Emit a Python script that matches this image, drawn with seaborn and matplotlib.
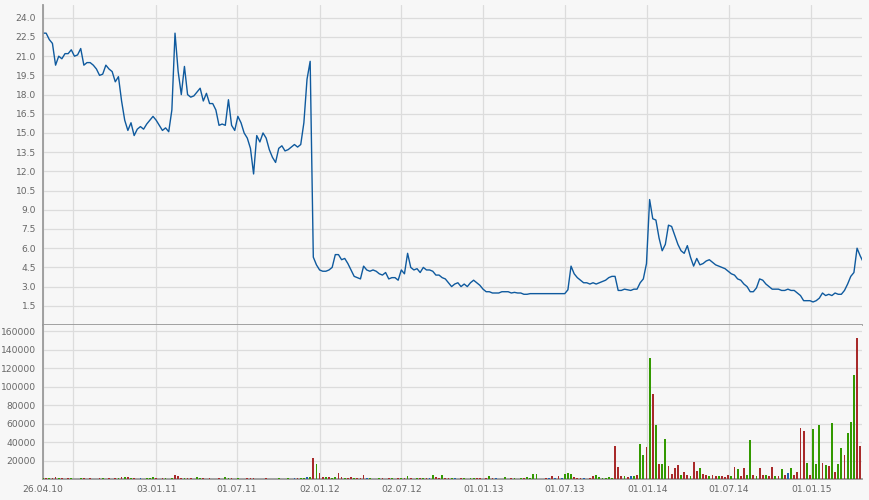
import matplotlib
matplotlib.use("Agg")
import matplotlib.pyplot as plt
import pandas as pd
import seaborn as sns

# ---------------- data (weekly readings) ----------------
start_date = "2010-04-26"
end_date = "2015-04-24"

price = [
    22.8, 22.8, 22.3, 22.0, 20.3, 21.0, 20.8, 21.2, 21.2, 21.5,
    21.0, 21.1, 21.6, 20.3, 20.5, 20.5, 20.3, 20.0, 19.5, 19.6,
    20.3, 20.0, 19.8, 19.0, 19.4, 17.5, 16.0, 15.2, 15.8, 14.8,
    15.3, 15.5, 15.3, 15.7, 16.0, 16.3, 16.0, 15.6, 15.2, 15.4,
    15.1, 16.8, 22.8, 19.8, 18.0, 20.2, 18.0, 17.8, 17.9, 18.2,
    18.5, 17.5, 18.1, 17.3, 17.3, 16.8, 15.6, 15.7, 15.6, 17.6,
    15.6, 15.2, 16.3, 15.8, 15.0, 14.6, 13.8, 11.8, 14.8, 14.3,
    15.0, 14.6, 13.7, 13.1, 12.7, 13.8, 14.0, 13.6, 13.7, 13.9,
    14.1, 13.9, 14.1, 15.8, 19.2, 20.6, 5.3, 4.7, 4.3, 4.2,
    4.2, 4.3, 4.5, 5.5, 5.5, 5.1, 5.2, 4.8, 4.3, 3.8,
    3.7, 3.6, 4.6, 4.3, 4.2, 4.3, 4.2, 4.0, 3.9, 4.1,
    3.6, 3.7, 3.7, 3.5, 4.3, 4.0, 5.6, 4.5, 4.3, 4.4,
    4.1, 4.5, 4.3, 4.3, 4.2, 3.9, 3.9, 3.7, 3.6, 3.3,
    3.0, 3.2, 3.3, 3.0, 3.2, 3.0, 3.3, 3.5, 3.3, 3.1,
    2.8, 2.6, 2.6, 2.5, 2.5, 2.5, 2.6, 2.6, 2.6, 2.5,
    2.55, 2.5, 2.5, 2.4, 2.4, 2.45, 2.45, 2.45, 2.45, 2.45,
    2.45, 2.45, 2.45, 2.45, 2.45, 2.45, 2.45, 2.75, 4.6, 4.0,
    3.7, 3.5, 3.3, 3.3, 3.2, 3.3, 3.2, 3.3, 3.4, 3.5,
    3.7, 3.8, 3.8, 2.7, 2.7, 2.8, 2.75, 2.7, 2.8, 2.8,
    3.3, 3.6, 4.8, 9.8, 8.3, 8.2, 6.8, 5.8, 6.3, 7.8,
    7.7, 7.0, 6.3, 5.8, 5.6, 6.2, 5.3, 4.6, 5.2, 4.7,
    4.8, 5.0, 5.1, 4.9, 4.7, 4.6, 4.5, 4.4, 4.2, 4.0,
    3.9, 3.6, 3.5, 3.2, 3.0, 2.6, 2.6, 2.9, 3.6, 3.5,
    3.2, 3.0, 2.8, 2.8, 2.8, 2.7, 2.7, 2.8, 2.7, 2.7,
    2.5, 2.3, 1.9, 1.9, 1.9, 1.8, 1.9, 2.1, 2.5, 2.3,
    2.4, 2.3, 2.5, 2.4, 2.4, 2.7, 3.2, 3.8, 4.1, 6.0,
    5.4, 4.9,
]

volume = [
    1800, 900, 1000, 1100, 2000, 1200, 900, 800, 900, 1000,
    800, 700, 900, 1000, 800, 900, 700, 800, 900, 1000,
    800, 900, 700, 900, 1000, 2900, 2000, 2900, 1100, 1000,
    800, 900, 700, 900, 1200, 2000, 900, 800, 900, 1000,
    800, 1500, 4700, 3300, 1200, 1000, 1100, 900, 800, 2000,
    1000, 900, 800, 900, 700, 800, 900, 800, 2000, 1000,
    900, 800, 900, 700, 800, 900, 1000, 900, 800, 700,
    800, 900, 800, 700, 800, 900, 800, 700, 900, 800,
    900, 1000, 1200, 1500, 2000, 2900, 23500, 16100, 6300, 2900,
    2000, 2200, 1800, 2500, 7000, 2500, 1500, 1000, 2800, 1500,
    1000, 900, 4600, 1000, 900, 800, 700, 1000, 900, 800,
    1000, 900, 800, 1000, 1200, 1000, 3500, 1000, 800, 900,
    1000, 1200, 1000, 900, 4600, 2800, 1500, 4900, 1200, 1000,
    900, 1000, 800, 900, 1000, 800, 1000, 1200, 1000, 900,
    800, 1200, 3500, 1000, 900, 800, 700, 2800, 800, 1000,
    900, 700, 1200, 1000, 2100, 1000, 5600, 5600, 800, 700,
    900, 1000, 3500, 900, 3500, 1000, 5800, 6300, 6000, 3000,
    1500, 1000, 900, 800, 1000, 3600, 4700, 2000, 1500, 1200,
    2500, 1200, 36000, 13700, 4000, 3500, 3000, 4000, 3500, 5000,
    38000, 26000, 35000, 131000, 92000, 59000, 16600, 17000, 43700, 14400,
    6000, 12000, 15000, 5000, 8000, 5000, 4000, 18800, 9000, 12000,
    6000, 5000, 4000, 5000, 4000, 3500, 4000, 3000, 5000, 3500,
    13000, 11500, 4000, 12700, 5000, 42600, 4500, 4000, 12700, 5000,
    5000, 4000, 13000, 4000, 3500, 11500, 5000, 7000, 12700, 5000,
    8000, 56000, 52000, 18000, 5000, 54000, 16600, 59000, 18000, 15000,
    14400, 60600, 8000, 17000, 33600, 26000, 50500, 62500, 113000, 152700,
    36000,
]

# u = up day, d = down day, n = unchanged
vol_dir = list(
    "ududdududu" "dnududdudu" "udddududud" "unduuudddu" "dudddudduu"
    "ududndduuu" "ddudddddud" "ndddduunuu" "nduunududd" "uduudduddu"
    "dddnudnudu" "dundududnu" "dudnuddudd" "unududuudd" "ndudnuduud"
    "unuduuuunn" "dndndnuuud" "ddnndduuuu" "uudddudnud" "uudududuud"
    "dddudduddu" "dduddudddu" "dudduududd" "uddududnud" "ddduduuudu"
    "duduuduuudd"
)

tick_dates = ["2010-04-26", "2010-07-01", "2011-01-03", "2011-07-01", "2012-01-02",
              "2012-07-02", "2013-01-01", "2013-07-01", "2014-01-01", "2014-07-01",
              "2015-01-01"]
tick_labels = ["26.04.10", "", "03.01.11", "01.07.11", "02.01.12",
               "02.07.12", "01.01.13", "01.07.13", "01.01.14", "01.07.14",
               "01.01.15"]
price_ticks = [1.5, 3.0, 4.5, 6.0, 7.5, 9.0, 10.5, 12.0, 13.5, 15.0,
               16.5, 18.0, 19.5, 21.0, 22.5, 24.0]
volume_ticks = [20000, 40000, 60000, 80000, 100000, 120000, 140000, 160000]

assert len(volume) == len(vol_dir)

# ---------------- styling ----------------
BG = "#f7f7f7"
GRID = "#dcdcdc"
SPINE = "#9a9a9a"
TEXT = "#666666"
LINE = "#0f5a9e"
dir_colors = {"u": "#339900", "d": "#a82a2a", "n": "#1f5fae"}

sns.set_style("whitegrid", {"axes.facecolor": BG, "figure.facecolor": BG,
                            "grid.color": GRID, "axes.edgecolor": SPINE})
plt.rcParams["font.family"] = ["DejaVu Sans"]

W, H = 870, 500
fig = plt.figure(figsize=(W / 100, H / 100), dpi=100, facecolor=BG)
left, right = 43, 862
ax1 = fig.add_axes([left / W, (H - 325) / H, (right - left) / W, (325 - 5) / H])
ax2 = fig.add_axes([left / W, (H - 479.3) / H, (right - left) / W, (479.3 - 325) / H],
                   sharex=ax1)

price_df = pd.DataFrame({
    "date": pd.date_range(start_date, periods=len(price), freq="7D"),
    "price": price,
})
vol_df = pd.DataFrame({
    "date": pd.date_range(start_date, periods=len(volume), freq="7D"),
    "volume": volume,
    "dir": vol_dir,
})

sns.lineplot(data=price_df, x="date", y="price", ax=ax1, color=LINE,
             linewidth=1.0)

ax2.bar(vol_df["date"], vol_df["volume"], width=4.0,
        color=[dir_colors[d] for d in vol_df["dir"]], linewidth=0, zorder=3)

for ax in (ax1, ax2):
    ax.set_facecolor(BG)
    ax.set_xlabel("")
    ax.set_ylabel("")
    ax.grid(True, color=GRID, linewidth=0.9)
    ax.set_axisbelow(True)
    for s in ("top", "right"):
        ax.spines[s].set_visible(False)
    for s in ("left", "bottom"):
        ax.spines[s].set_color(SPINE)
        ax.spines[s].set_linewidth(1.3)
    ax.tick_params(axis="y", length=3, width=0.9, color=SPINE, pad=2,
                   labelsize=6.6, labelcolor=TEXT)

ax1.set_xlim(pd.Timestamp(start_date), pd.Timestamp(end_date))
ax1.set_ylim(0, 25.0)
ax1.set_yticks(price_ticks)
ax1.set_yticklabels([f"{v:.1f}" for v in price_ticks])
ax1.tick_params(axis="x", length=0, labelbottom=False)

ax2.set_ylim(0, 167000)
ax2.set_yticks(volume_ticks)
ax2.set_yticklabels([str(v) for v in volume_ticks])
ax2.set_xticks(pd.to_datetime(tick_dates))
ax2.set_xticklabels(tick_labels)
ax2.tick_params(axis="x", length=3, width=0.9, color=SPINE, pad=1,
                labelsize=6.6, labelcolor=TEXT)

fig.savefig("out.png", dpi=100, facecolor=BG)
